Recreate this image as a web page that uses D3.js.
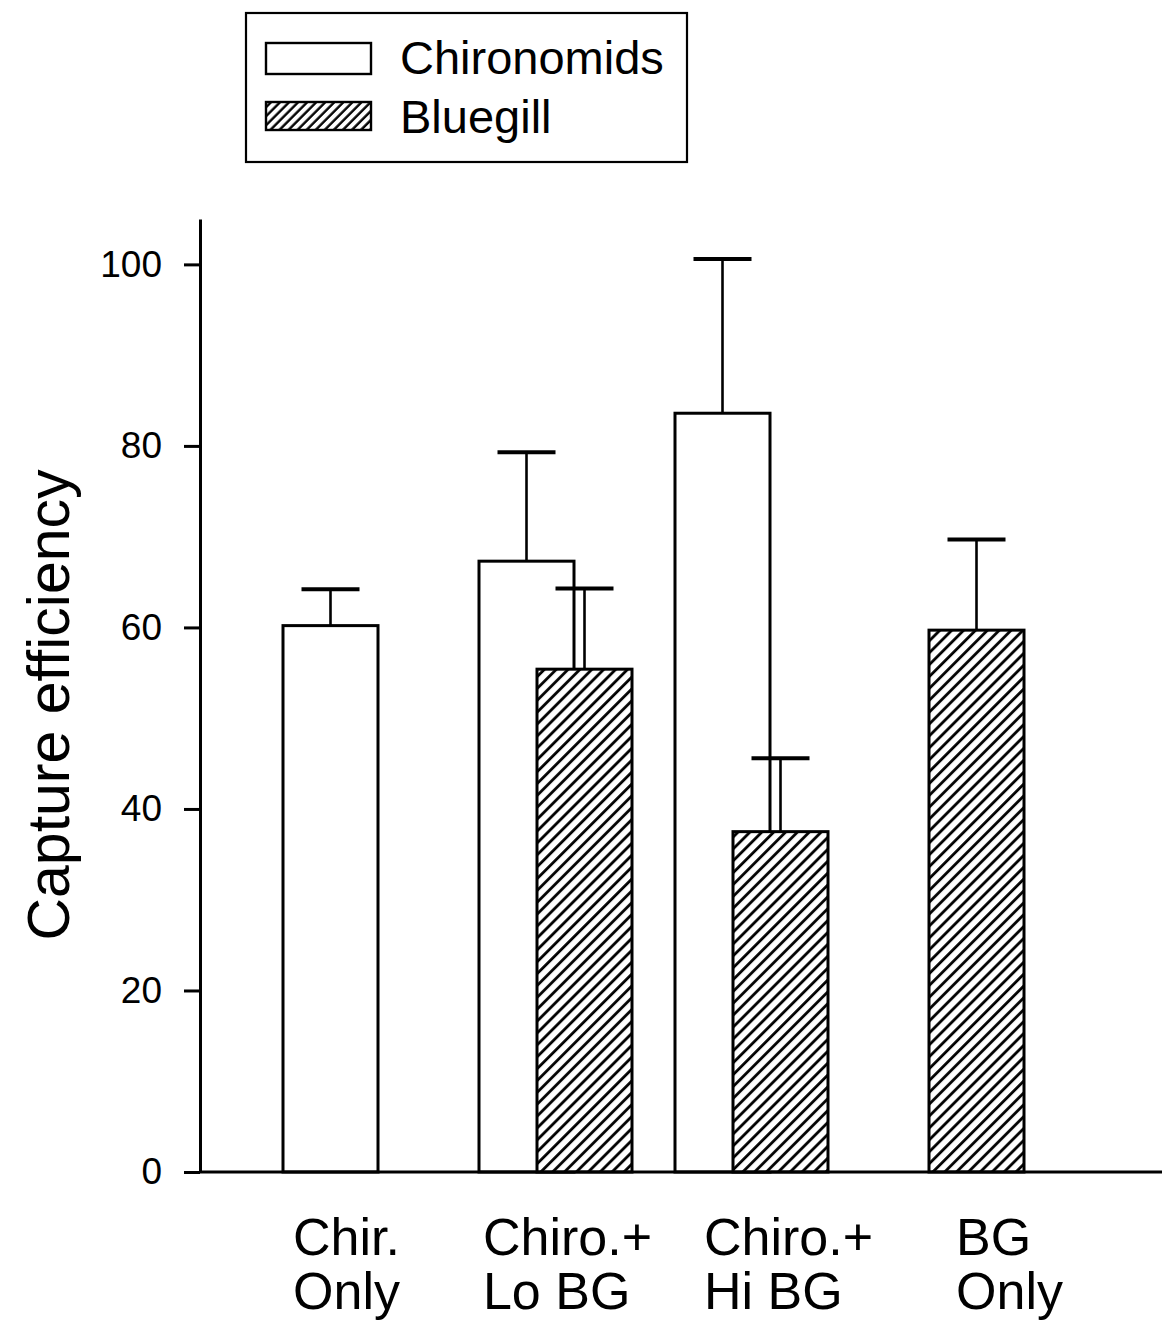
<!DOCTYPE html>
<html lang="en">
<head>
<meta charset="UTF-8">
<title>Capture efficiency</title>
<style>
  html, body { margin: 0; padding: 0; background: #fff; }
  svg { display: block; font-family: "Liberation Sans", Arial, sans-serif; }
</style>
</head>
<body>
<svg></svg>
<script src="https://d3js.org/d3.v7.min.js"></script>
<script>
const groups = ["Chir. Only", "Chiro.+ Lo BG", "Chiro.+ Hi BG", "BG Only"];
const groupLabels = [["Chir.", "Only"], ["Chiro.+", "Lo BG"], ["Chiro.+", "Hi BG"], ["BG", "Only"]];
const seriesNames = ["Chironomids", "Bluegill"];
const chironomids = [60.2, 67.3, 83.6, null];
const chironomidsErr = [4.0, 12.0, 17.0, null];
const bluegill = [null, 55.4, 37.5, 59.7];
const bluegillErr = [null, 8.9, 8.1, 10.0];
const yTicks = [0, 20, 40, 60, 80, 100];
const yTitle = "Capture efficiency";

const width = 1162, height = 1323;
const plot = { left: 200, top: 219, bottom: 1172, right: 1162 };
const barW = 95, capW = 58;

const svg = d3.select("svg").attr("width", width).attr("height", height);

// hatch patterns
const defs = svg.append("defs");
function hatch(id, s, w) {
  const p = defs.append("pattern")
      .attr("id", id)
      .attr("patternUnits", "userSpaceOnUse")
      .attr("width", s).attr("height", s)
      .attr("patternTransform", "rotate(45)");
  p.append("rect").attr("width", s).attr("height", s).attr("fill", "#fff");
  p.append("line").attr("x1", 1.5).attr("y1", 0).attr("x2", 1.5).attr("y2", s)
      .attr("stroke", "#000").attr("stroke-width", w);
}
hatch("hatchBar", 8.4, 2.8);
hatch("hatchLegend", 6.4, 2.4);

const y = d3.scaleLinear().domain([0, 105]).range([plot.bottom, plot.top]);
const x = d3.scaleBand().domain(groups).range([253, 1037]);
const xLabel = d3.scaleBand().domain(groups).range([236, 1120]);
const offset = { Chironomids: 30, Bluegill: 88 };

const rows = (name, vals, errs) => groups.map((g, i) => ({ g, name, v: vals[i], e: errs[i] }))
    .filter(d => d.v != null);
const chiroData = rows("Chironomids", chironomids, chironomidsErr);
const bgData = rows("Bluegill", bluegill, bluegillErr);

function drawSeries(data, fill) {
  const g = svg.append("g");
  g.selectAll("rect").data(data).join("rect")
      .attr("x", d => x(d.g) + offset[d.name])
      .attr("y", d => y(d.v))
      .attr("width", barW)
      .attr("height", d => y(0) - y(d.v))
      .attr("fill", fill)
      .attr("stroke", "#000")
      .attr("stroke-width", 3);
  const cx = d => x(d.g) + offset[d.name] + barW / 2;
  g.selectAll("line.stem").data(data).join("line")
      .attr("class", "stem")
      .attr("x1", cx).attr("x2", cx)
      .attr("y1", d => y(d.v)).attr("y2", d => y(d.v + d.e))
      .attr("stroke", "#000").attr("stroke-width", 2.6);
  g.selectAll("line.cap").data(data).join("line")
      .attr("class", "cap")
      .attr("x1", d => cx(d) - capW / 2).attr("x2", d => cx(d) + capW / 2)
      .attr("y1", d => y(d.v + d.e)).attr("y2", d => y(d.v + d.e))
      .attr("stroke", "#000").attr("stroke-width", 4);
}
drawSeries(chiroData, "#fff");
drawSeries(bgData, "url(#hatchBar)");

// y axis
const yAxis = svg.append("g")
    .attr("transform", `translate(${plot.left},0)`)
    .call(d3.axisLeft(y).tickValues(yTicks).tickSize(16).tickSizeOuter(0).tickPadding(22));
yAxis.select(".domain").attr("stroke-width", 3);
yAxis.selectAll(".tick line").attr("stroke-width", 3);
yAxis.selectAll(".tick text")
    .attr("font-size", 37)
    .attr("font-family", "Liberation Sans, Arial, sans-serif")
    .attr("fill", "#000");

// x axis line
svg.append("line")
    .attr("x1", plot.left).attr("x2", plot.right)
    .attr("y1", y(0)).attr("y2", y(0))
    .attr("stroke", "#000").attr("stroke-width", 3);

// category labels (two lines, left aligned, block centred)
const lab = svg.append("g").selectAll("text").data(groups).join("text")
    .attr("font-size", 52)
    .attr("fill", "#000");
lab.each(function (g, i) {
  const t = d3.select(this);
  groupLabels[i].forEach((line, k) => {
    t.append("tspan").attr("y", 1255 + k * 54).text(line);
  });
  let maxW = 0;
  t.selectAll("tspan").each(function () { maxW = Math.max(maxW, this.getComputedTextLength()); });
  t.selectAll("tspan").attr("x", xLabel(g) + xLabel.bandwidth() / 2 - maxW / 2);
});

// y title
svg.append("text")
    .attr("transform", `translate(69,705) rotate(-90)`)
    .attr("text-anchor", "middle")
    .attr("font-size", 59)
    .attr("fill", "#000")
    .text(yTitle);

// legend
const legend = svg.append("g");
legend.append("rect")
    .attr("x", 246).attr("y", 13).attr("width", 441).attr("height", 149)
    .attr("fill", "#fff").attr("stroke", "#000").attr("stroke-width", 2.2);
const legFills = ["#fff", "url(#hatchLegend)"];
const legY = d3.scalePoint().domain(seriesNames).range([58, 117]);
legend.selectAll("rect.sw").data(seriesNames).join("rect")
    .attr("class", "sw")
    .attr("x", 266).attr("y", d => legY(d) - 15)
    .attr("width", 105).attr("height", d => d === "Bluegill" ? 28 : 31)
    .attr("fill", (d, i) => legFills[i])
    .attr("stroke", "#000").attr("stroke-width", 2.4);
legend.selectAll("text").data(seriesNames).join("text")
    .attr("x", 400).attr("y", d => legY(d) + 16)
    .attr("font-size", 47)
    .attr("fill", "#000")
    .text(d => d);
</script>
</body>
</html>
